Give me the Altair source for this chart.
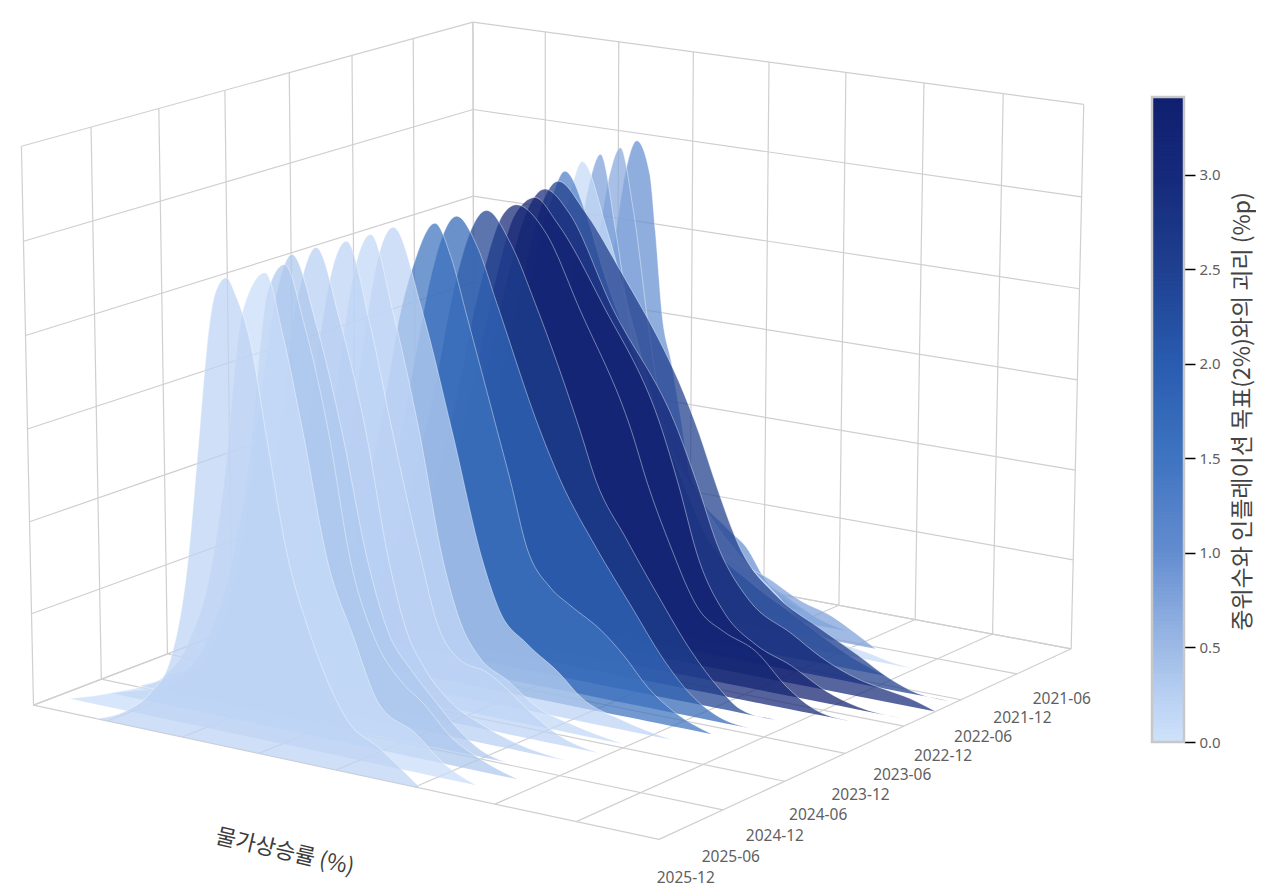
import numpy as np
import pandas as pd
import altair as alt

# ---- values (front ridge first) ----
tick_labels = ["2025-12","2025-06","2024-12","2024-06","2023-12","2023-06","2022-12","2022-06","2021-12","2021-06"]
tick_pos = [0.03,0.132,0.234,0.336,0.438,0.54,0.642,0.744,0.846,0.95]
ridge_pos = [0.00,0.05,0.10,0.15,0.20,0.25,0.30,0.35,0.40,0.45,0.50,0.55,0.60,0.65,0.70,0.75,0.80,0.85,0.90,0.95]
ridge_gap = [0.2,0.08,0.35,0.35,0.25,0.2,0.15,0.2,1.55,1.8,2.5,3.2,3.4,3.0,2.6,1.3,0.1,0.8,0.7,1.0]
ridge_shift = [.02,.024,.02,.011,.012,.012,.014,.013,.015,.017,.021,.03,.025,.02,.02,.02,.032,.038,.043,.047]
ridge_peak = [.828,.828,.828,.828,.828,.828,.828,.828,.828,.828,.828,.828,.828,.828,.828,.83,.835,.836,.836,.836]
ridge_x = [
 [.087,.136,.18,.211,.243,.266,.279,.294,.312,.328,.351,.372,.407,.437,.469,.50,.549,.614],
 [-.004,.04,.076,.12,.16,.20,.24,.27,.278,.297,.332,.36,.39,.428,.467,.508,.566,.609,.661],
 [.03,.06,.12,.16,.20,.24,.273,.287,.301,.329,.36,.397,.431,.471,.51,.546,.59,.638,.695],
 [.05,.09,.14,.18,.22,.25,.27,.29,.312,.35,.39,.43,.463,.5,.538,.575,.61,.65],
 [.05,.10,.14,.18,.22,.25,.27,.29,.312,.35,.39,.426,.456,.482,.525,.571,.63,.708],
 [.06,.10,.15,.19,.23,.26,.28,.30,.324,.36,.396,.442,.466,.503,.547,.579,.616,.664,.724],
 [.07,.10,.15,.19,.23,.26,.28,.30,.324,.36,.401,.439,.466,.498,.542,.59,.65,.725],
 [.08,.11,.15,.19,.23,.26,.28,.30,.325,.37,.419,.468,.495,.539,.592,.625,.69,.771],
 [.09,.12,.16,.20,.24,.275,.296,.32,.354,.38,.405,.454,.475,.502,.54,.571,.621,.659,.696,.733,.797],
 [.10,.14,.18,.22,.26,.285,.31,.351,.385,.416,.486,.519,.577,.635,.684,.728,.778,.822],
 [.09,.12,.16,.20,.24,.28,.298,.314,.36,.40,.439,.512,.538,.586,.637,.692,.736,.769,.825],
 [.10,.14,.18,.22,.26,.30,.343,.364,.41,.467,.552,.577,.611,.662,.70,.751,.802,.84,.90],
 [.08,.11,.15,.19,.23,.27,.30,.33,.364,.40,.474,.572,.597,.632,.674,.724,.78,.836,.885,.955],
 [.07,.10,.14,.18,.22,.26,.29,.32,.35,.39,.459,.569,.599,.634,.685,.754,.80,.86,.90,.94,.98],
 [.06,.09,.13,.17,.21,.25,.28,.31,.337,.38,.433,.57,.597,.635,.697,.762,.825,.876,.92,.97],
 [.05,.08,.12,.16,.20,.24,.265,.29,.313,.35,.375,.475,.505,.55,.62,.68,.74,.79,.84],
 [.04,.07,.11,.15,.19,.225,.25,.275,.295,.336,.38,.43,.49,.542,.58,.619,.664,.709,.765,.81,.837],
 [.04,.07,.11,.15,.185,.22,.245,.265,.285,.31,.34,.38,.44,.5,.56,.62,.672,.71,.742],
 [.04,.07,.105,.145,.18,.215,.24,.26,.279,.30,.33,.36,.42,.48,.55,.62,.66],
 [.03,.065,.10,.135,.17,.205,.23,.25,.268,.29,.30,.312,.328,.345,.362,.424,.456,.487,.52,.55],
]
ridge_z = [
 [0,.025,.07,.13,.31,.55,.69,.79,.82,.79,.71,.57,.35,.24,.15,.09,.055,0],
 [0,.015,.03,.05,.08,.15,.3,.53,.62,.76,.826,.72,.56,.34,.22,.108,.069,.027,0],
 [0,.01,.03,.07,.15,.3,.52,.666,.777,.83,.73,.55,.327,.193,.132,.1,.05,.021,0],
 [0,.02,.05,.12,.28,.5,.66,.78,.836,.72,.537,.313,.19,.13,.083,.04,.012,0],
 [0,.03,.06,.14,.3,.5,.67,.78,.835,.71,.524,.297,.17,.116,.062,.035,.012,0],
 [0,.02,.06,.14,.3,.5,.66,.78,.836,.70,.51,.285,.18,.118,.105,.082,.049,.016,0],
 [0,.02,.06,.14,.3,.5,.66,.78,.836,.70,.496,.268,.164,.104,.073,.035,.015,0],
 [0,.02,.06,.14,.3,.5,.66,.78,.838,.70,.486,.259,.174,.123,.08,.045,.018,0],
 [0,.025,.07,.16,.33,.53,.66,.76,.837,.78,.68,.48,.394,.275,.21,.185,.15,.11,.062,.03,0],
 [0,.04,.11,.23,.43,.58,.72,.83,.78,.685,.468,.384,.273,.176,.095,.04,.007,0],
 [0,.02,.07,.17,.33,.53,.64,.72,.835,.78,.68,.461,.374,.28,.187,.094,.037,.007,0],
 [0,.05,.13,.26,.44,.66,.82,.84,.80,.667,.456,.368,.269,.15,.12,.095,.039,.011,0],
 [0,.02,.07,.16,.32,.52,.68,.80,.84,.80,.664,.447,.358,.22,.13,.083,.057,.022,.005,0],
 [0,.015,.06,.15,.31,.52,.68,.80,.848,.81,.65,.434,.345,.232,.141,.093,.06,.032,.023,.015,0],
 [0,.01,.05,.13,.29,.5,.66,.80,.848,.80,.71,.413,.325,.217,.135,.092,.054,.021,.003,0],
 [0,.01,.04,.12,.28,.52,.68,.79,.85,.77,.68,.40,.31,.2,.13,.09,.05,.02,0],
 [0,.01,.04,.12,.28,.5,.66,.79,.855,.735,.56,.37,.25,.173,.13,.092,.041,.024,.014,.003,0],
 [0,.015,.05,.13,.28,.5,.66,.79,.857,.72,.5,.3,.16,.12,.1,.065,.046,.022,0],
 [0,.015,.05,.13,.28,.5,.66,.8,.86,.75,.5,.3,.14,.09,.05,.01,0],
 [0,.015,.05,.12,.26,.48,.65,.8,.86,.80,.69,.53,.44,.33,.22,.133,.103,.048,.016,0],
]
cbar_stops = [0,0.25,0.5,1.0,1.5,2.0,2.5,3.0,3.41]
cbar_colors = ["#cfe2fb","#b7cff2","#9dbae6","#648dd0","#3e74c0","#2a5cb0","#1f408f","#16297a","#10206f"]
cbar_ticks = [0,0.5,1.0,1.5,2.0,2.5,3.0]

# ---- camera: unit box (x, date, height) -> page, calibrated on the box corners ----
cam_box = [(0,0,0),(1,0,0),(1,1,0),(0,1,0),(0,0,1),(0,1,1),(1,1,1)]
cam_page = [(33,700),(660,843),(1071,645),(474,542),(21,148),(474,20),(1083,105)]
A, b = [], []
for (X_,Y_,Z_),(u,v) in zip(cam_box, cam_page):
    A.append([X_,Y_,Z_,1,0,0,0,0,-u*X_,-u*Y_,-u*Z_]); b.append(u)
    A.append([0,0,0,0,X_,Y_,Z_,1,-v*X_,-v*Y_,-v*Z_]); b.append(v)
p = np.linalg.lstsq(np.array(A,float), np.array(b,float), rcond=None)[0]
P = np.append(p,1.0).reshape(3,4)

def project(x,y,z):
    h = P @ np.array([x,y,z,1.0])
    return h[0]/h[2], h[1]/h[2]

W, H = 1176, 880
xs = alt.Scale(domain=[8,8+W], nice=False, zero=False)
ys = alt.Scale(domain=[8+H,8], nice=False, zero=False)
X = lambda f="px": alt.X(f"{f}:Q", scale=xs, axis=None)
Y = lambda f="py": alt.Y(f"{f}:Q", scale=ys, axis=None)
color_scale = alt.Scale(domain=cbar_stops, range=cbar_colors)

# ---- box grid ----
segs = []
def seg(a,b):
    x1,y1 = project(*a); x2,y2 = project(*b)
    segs.append(dict(px=x1,py=y1,px2=x2,py2=y2))
for i in range(9):
    t=i/8
    seg((t,0,0),(t,1,0)); seg((t,1,0),(t,1,1))
for i in range(8):
    t=i/7
    seg((0,t,0),(1,t,0)); seg((0,t,0),(0,t,1))
for i in range(7):
    t=i/6
    seg((0,0,t),(0,1,t)); seg((0,1,t),(1,1,t))
grid = alt.Chart(pd.DataFrame(segs)).mark_rule(color="#cfcfcf", strokeWidth=1.2).encode(
    x=X(), y=Y(), x2="px2:Q", y2="py2:Q")

# ---- ridges, back to front ----
n = len(ridge_gap)
layers = [grid]
for k in range(n-1,-1,-1):
    s = ridge_pos[k]
    ux = [a+ridge_shift[k] for a in ridge_x[k]]
    uz = [c*ridge_peak[k]/max(ridge_z[k]) for c in ridge_z[k]]
    x0,y0 = project(ux[0],s,0); x1,y1 = project(ux[-1],s,0)
    rows=[]
    for a,c in zip(ux,uz):
        px,py = project(a,s,c)
        rows.append(dict(px=px,py=py,by=y0+(px-x0)*(y1-y0)/(x1-x0),gap=ridge_gap[k]))
    d = pd.DataFrame(rows)
    layers.append(alt.Chart(d).mark_area(interpolate="monotone",opacity=0.72).encode(
        x=X(), y=Y(), y2="by:Q",
        color=alt.Color("gap:Q",scale=color_scale,legend=None)))
    layers.append(alt.Chart(d).mark_line(interpolate="monotone",color="#ffffff",strokeWidth=0.7,opacity=0.6).encode(
        x=X(), y=Y()))

# ---- text ----
lab=[]
for t,sv in zip(tick_labels,tick_pos):
    px,py=project(1,sv,0)
    lab.append(dict(px=px+9.5+4*(0.95-sv),py=py+41.5+4*(0.95-sv),t=t))
layers.append(alt.Chart(pd.DataFrame(lab)).mark_text(font="Noto Sans",fontSize=15.5,color="#5f5f5f",align="center",baseline="middle").encode(
    x=X(),y=Y(),text="t:N"))
tx,ty=project(0.4,0,0)
layers.append(alt.Chart(pd.DataFrame([dict(px=tx+11,py=ty+95,t="물가상승률 (%)")])).mark_text(
    font="Noto Sans CJK KR",fontSize=22,color="#3c3c3c",angle=13,align="center",baseline="middle").encode(
    x=X(),y=Y(),text="t:N"))

# ---- colour bar ----
step=0.02
levels=np.arange(0,3.41,step)
bar=pd.DataFrame(dict(lo=levels,hi=np.minimum(levels+step*1.6,3.41),v=levels+step/2))
cy=alt.Scale(domain=[0,3.41],range=[734,89],nice=False,zero=False)
cb_frame=alt.Chart(pd.DataFrame([dict(lo=0,hi=3.41)])).mark_rect(fillOpacity=0,stroke="#c8c8c8",strokeWidth=2.5).encode(
    x=alt.value(1144),x2=alt.value(1176),
    y=alt.Y("lo:Q",scale=cy,axis=None),y2="hi:Q")
cb_rect=alt.Chart(bar).mark_rect().encode(
    x=alt.value(1144),x2=alt.value(1176),
    y=alt.Y("lo:Q",scale=cy,axis=alt.Axis(orient="right",values=cbar_ticks,format=".1f",title="중위수와 인플레이션 목표(2%)와의 괴리 (%p)",
        titleFont="Noto Sans CJK KR",titleFontSize=23,titleFontWeight="normal",titleColor="#444444",titleAngle=270,
        titleX=58,titleY=403,titleAlign="center",titleBaseline="middle",
        labelFont="Noto Sans",labelFontSize=15,labelColor="#5f5f5f",tickColor="#000000",tickWidth=1.5,tickSize=11,labelPadding=4,domain=False,grid=False)),
    y2="hi:Q",
    color=alt.Color("v:Q",scale=color_scale,legend=None))

chart=alt.layer(*layers,cb_rect,cb_frame).resolve_scale(y="independent").properties(
    width=W,height=H,padding={"left":0,"top":0,"right":72,"bottom":0},
    autosize=alt.AutoSizeParams(type="none")).configure_view(stroke=None)
chart.save("out.html", embed_options={"renderer":"svg","actions":False})
